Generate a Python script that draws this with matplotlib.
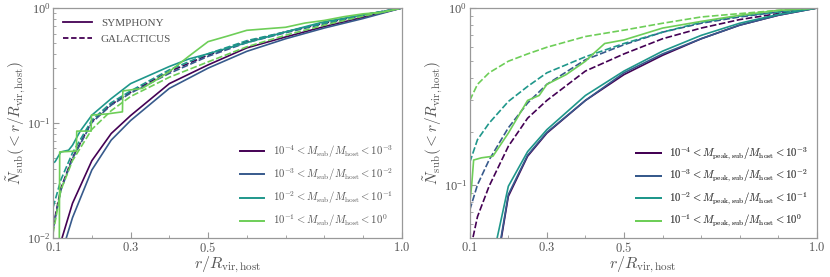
import numpy as np
import matplotlib
matplotlib.use("Agg")
import matplotlib.pyplot as plt
from matplotlib.lines import Line2D

plt.rcParams['mathtext.fontset'] = 'cm'
plt.rcParams['font.family'] = ['Liberation Serif', 'DejaVu Serif']

# radial grid r / R_vir,host
r = [0.1, 0.12, 0.15, 0.2, 0.25, 0.3, 0.4, 0.5, 0.6, 0.7, 0.8, 0.9, 1.0]

# ---- left: bins in present-day M_sub / M_host ----
sym_left = {
    0: ([0.115, 0.123, 0.15, 0.2, 0.25, 0.3, 0.4, 0.5, 0.6, 0.7, 0.8, 0.9, 1.0],
        [0.007, 0.010, 0.020, 0.047, 0.081, 0.116, 0.22, 0.32, 0.45, 0.56, 0.69, 0.83, 1.0]),
    1: ([0.128, 0.134, 0.15, 0.2, 0.25, 0.3, 0.4, 0.5, 0.6, 0.7, 0.8, 0.9, 1.0],
        [0.007, 0.010, 0.015, 0.039, 0.071, 0.105, 0.20, 0.30, 0.42, 0.54, 0.67, 0.81, 1.0]),
    2: ([0.1, 0.105, 0.12, 0.14, 0.15, 0.17, 0.2, 0.25, 0.3, 0.4, 0.45, 0.5, 0.6, 0.7, 0.8, 0.9, 1.0],
        [0.045, 0.046, 0.056, 0.058, 0.064, 0.085, 0.117, 0.163, 0.22, 0.31, 0.36, 0.40, 0.50, 0.62, 0.76, 0.87, 1.0]),
    3: ([0.113, 0.116, 0.117, 0.16, 0.161, 0.198, 0.199, 0.24, 0.279, 0.28, 0.33, 0.36, 0.4, 0.45, 0.5,
         0.55, 0.6, 0.65, 0.7, 0.75, 0.8, 0.85, 0.9, 0.95, 1.0],
        [0.005, 0.010, 0.056, 0.057, 0.085, 0.085, 0.117, 0.12, 0.125, 0.19, 0.20, 0.23, 0.28, 0.38, 0.51,
         0.57, 0.64, 0.66, 0.68, 0.74, 0.78, 0.84, 0.89, 0.92, 1.0]),
}
gal_left = {
    0: [0.0125, 0.027, 0.050, 0.103, 0.145, 0.185, 0.28, 0.39, 0.51, 0.62, 0.74, 0.87, 1.0],
    1: [0.0120, 0.026, 0.049, 0.101, 0.143, 0.182, 0.27, 0.38, 0.50, 0.61, 0.73, 0.86, 1.0],
    2: [0.0185, 0.032, 0.055, 0.106, 0.150, 0.190, 0.29, 0.40, 0.52, 0.62, 0.74, 0.87, 1.0],
    3: [0.0110, 0.026, 0.047, 0.088, 0.128, 0.170, 0.25, 0.34, 0.46, 0.58, 0.71, 0.85, 1.0],
}

# ---- right: bins in M_peak,sub / M_host ----
sym_right = {
    0: ([0.175, 0.182, 0.2, 0.25, 0.3, 0.4, 0.5, 0.6, 0.7, 0.8, 0.9, 1.0],
        [0.040, 0.050, 0.086, 0.145, 0.196, 0.30, 0.42, 0.54, 0.67, 0.80, 0.91, 1.0]),
    1: ([0.175, 0.181, 0.2, 0.25, 0.3, 0.4, 0.5, 0.6, 0.7, 0.8, 0.9, 1.0],
        [0.040, 0.050, 0.088, 0.147, 0.198, 0.30, 0.43, 0.55, 0.67, 0.80, 0.91, 1.0]),
    2: ([0.165, 0.171, 0.2, 0.25, 0.3, 0.4, 0.5, 0.6, 0.7, 0.8, 0.9, 1.0],
        [0.040, 0.050, 0.098, 0.154, 0.205, 0.32, 0.44, 0.57, 0.70, 0.82, 0.92, 1.0]),
    3: ([0.1, 0.105, 0.11, 0.13, 0.16, 0.2, 0.25, 0.28, 0.3, 0.35, 0.4, 0.42, 0.45, 0.5, 0.6, 0.7, 0.8, 0.9, 1.0],
        [0.079, 0.10, 0.138, 0.142, 0.145, 0.196, 0.30, 0.32, 0.37, 0.42, 0.50, 0.55, 0.63, 0.66, 0.77, 0.84, 0.91, 0.97, 1.0]),
}
gal_right = {
    0: ([0.103, 0.108, 0.12, 0.15, 0.2, 0.25, 0.3, 0.4, 0.5, 0.6, 0.7, 0.8, 0.9, 1.0],
        [0.045, 0.050, 0.066, 0.098, 0.165, 0.238, 0.30, 0.44, 0.55, 0.67, 0.77, 0.86, 0.93, 1.0]),
    1: ([0.1, 0.12, 0.15, 0.2, 0.25, 0.3, 0.4, 0.5, 0.6, 0.7, 0.8, 0.9, 1.0],
        [0.072, 0.100, 0.138, 0.21, 0.29, 0.37, 0.51, 0.62, 0.73, 0.82, 0.89, 0.95, 1.0]),
    2: ([0.1, 0.12, 0.15, 0.2, 0.25, 0.3, 0.4, 0.5, 0.6, 0.7, 0.8, 0.9, 1.0],
        [0.134, 0.180, 0.223, 0.296, 0.36, 0.43, 0.53, 0.63, 0.73, 0.83, 0.90, 0.95, 1.0]),
    3: ([0.1, 0.12, 0.15, 0.2, 0.25, 0.3, 0.4, 0.5, 0.6, 0.7, 0.8, 0.9, 1.0],
        [0.30, 0.37, 0.43, 0.50, 0.55, 0.60, 0.69, 0.75, 0.82, 0.89, 0.93, 0.97, 1.0]),
}

exps = [(-4, -3), (-3, -2), (-2, -1), (-1, 0)]
colors = [plt.cm.viridis(v) for v in [0.0, 0.28, 0.53, 0.78]]
spine_col = '#999999'
text_col = '#555555'

fig = plt.figure(figsize=(8.3, 2.77), dpi=100)
ax1 = fig.add_axes([0.064, 0.141, 0.42, 0.830])
ax2 = fig.add_axes([0.566, 0.141, 0.418, 0.830])

for i in range(4):
    ax1.plot(sym_left[i][0], sym_left[i][1], color=colors[i], lw=1.2)
    ax1.plot(r, gal_left[i], color=colors[i], lw=1.2, ls='--', dashes=(4, 1.5))
    ax2.plot(sym_right[i][0], sym_right[i][1], color=colors[i], lw=1.2)
    ax2.plot(gal_right[i][0], gal_right[i][1], color=colors[i], lw=1.2, ls='--', dashes=(4, 1.5))

for ax, ylo, mlab in [(ax1, 1e-2, r'M_{\rm sub}'), (ax2, 0.05, r'M_{\rm peak,sub}')]:
    ax.set_yscale('log')
    ax.set_xlim(0.1, 1.0)
    ax.set_ylim(ylo, 1.0)
    ax.set_xticks([0.1, 0.3, 0.5, 1.0])
    ax.set_xticklabels([r'$0.1$', r'$0.3$', r'$0.5$', r'$1.0$'])
    ax.set_xticks([0.2, 0.4, 0.6, 0.7, 0.8, 0.9], minor=True)
    ax.tick_params(which='both', direction='in', colors=spine_col, labelcolor=text_col,
                   labelsize=9, pad=2)
    ax.tick_params(which='major', length=4, width=0.8)
    ax.tick_params(which='minor', length=2.5, width=0.6)
    for s in ax.spines.values():
        s.set_color(spine_col)
        s.set_linewidth(0.9)
    ax.set_xlabel(r'$r/R_{\rm vir,host}$', fontsize=11.5, color=text_col, labelpad=0)
    ax.set_ylabel(r'$\tilde{N}_{\rm sub}(<r/R_{\rm vir,host})$', fontsize=11, color=text_col, labelpad=0)

    handles = [Line2D([], [], color=colors[i], lw=1.4) for i in range(4)]
    labels = [r'$10^{%d}<%s/M_{\rm host}<10^{%d}$' % (a, mlab, b) for a, b in exps]
    leg = ax.legend(handles, labels, loc='lower right', frameon=False, fontsize=7.7,
                    handlelength=2.3, labelspacing=0.6, borderaxespad=0.4)
    for t in leg.get_texts():
        t.set_color(text_col)
    ax.add_artist(leg)

style_handles = [Line2D([], [], color=colors[0], lw=1.3),
                 Line2D([], [], color=colors[0], lw=1.3, ls='--', dashes=(3, 1.5))]
leg2 = ax1.legend(style_handles, ['SYMPHONY', 'GALACTICUS'], loc='upper left', frameon=False,
                  fontsize=8, handlelength=2.6, labelspacing=0.55, borderaxespad=0.5)
for t in leg2.get_texts():
    t.set_color(text_col)

fig.savefig('out.png', dpi=100)
